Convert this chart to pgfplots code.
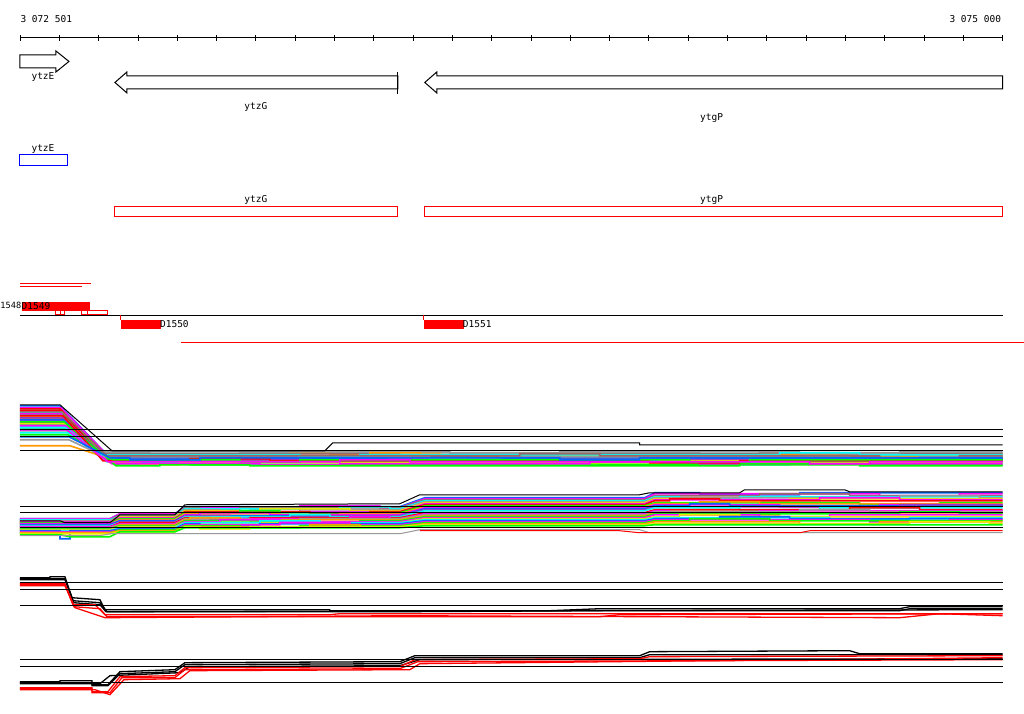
\documentclass[border=0pt]{standalone}
\usepackage{pgfplots}
\pgfplotsset{compat=1.18}
\usepackage{fontspec}
\setmonofont{DejaVu Sans Mono}
\definecolor{mag}{HTML}{FF00FF}
\definecolor{cyn}{HTML}{00FFFF}
\definecolor{lim}{HTML}{00FF00}
\definecolor{yel}{HTML}{E8E800}
\definecolor{org}{HTML}{FF9900}
\definecolor{gry}{HTML}{999999}
\definecolor{blu}{HTML}{0066FF}
\definecolor{rd}{HTML}{FF0000}
\definecolor{brn}{HTML}{996666}
\definecolor{pur}{HTML}{9933CC}
\definecolor{bblue}{HTML}{0000FF}
\begin{document}
\begin{tikzpicture}
\begin{axis}[width=1024pt,height=714pt,scale only axis,
  xmin=0,xmax=1024,ymin=0,ymax=714,y dir=reverse,axis lines=none,clip=false,
  every axis plot/.append style={line join=miter}]
\path (axis cs:0,0) rectangle (axis cs:1024,714);
% ruler
\addplot[black,line width=1pt] coordinates {(20,38) (1003,38)};
\addplot[black,only marks,mark=|,mark size=2.8pt,mark options={line width=0.8pt}] coordinates {
(20,38)(59.3,38)(98.6,38)(138,38)(177.3,38)(216.6,38)(255.9,38)(295.2,38)(334.6,38)(373.9,38)(413.2,38)(452.5,38)(491.8,38)(531.2,38)(570.5,38)(609.8,38)(649.1,38)(688.4,38)(727.8,38)(767.1,38)(806.4,38)(845.7,38)(885,38)(924.4,38)(963.7,38)(1003,38)};
\node[font=\ttfamily\fontsize{9.5}{10}\selectfont,anchor=west] at (axis cs:17,19) {3 072 501};
\node[font=\ttfamily\fontsize{9.5}{10}\selectfont,anchor=east] at (axis cs:1005,19) {3 075 000};
% gene arrows
\addplot[black,fill=white,line width=1pt] coordinates {(20,55)(56,55)(56,51)(69,61.5)(56,72)(56,68)(20,68)} -- cycle;
\addplot[black,fill=white,line width=1pt] coordinates {(398,76)(127,76)(127,72)(115,82.5)(127,93)(127,89)(398,89)} -- cycle;
\addplot[black,line width=1pt] coordinates {(398,72)(398,94)};
\addplot[black,fill=white,line width=1pt] coordinates {(1003,76)(437,76)(437,72)(425,82.5)(437,93)(437,89)(1003,89)} -- cycle;
\node[font=\ttfamily\fontsize{9.5}{10}\selectfont] at (axis cs:43,77) {ytzE};
\node[font=\ttfamily\fontsize{9.5}{10}\selectfont] at (axis cs:256,107) {ytzG};
\node[font=\ttfamily\fontsize{9.5}{10}\selectfont] at (axis cs:712,118) {ytgP};
% track 2
\addplot[bblue,line width=1pt] coordinates {(20,155)(68,155)(68,166)(20,166)} -- cycle;
\node[font=\ttfamily\fontsize{9.5}{10}\selectfont] at (axis cs:43,149) {ytzE};
\addplot[rd,line width=1pt] coordinates {(115,207)(398,207)(398,217)(115,217)} -- cycle;
\addplot[rd,line width=1pt] coordinates {(425,207)(1003,207)(1003,217)(425,217)} -- cycle;
\node[font=\ttfamily\fontsize{9.5}{10}\selectfont] at (axis cs:256,200) {ytzG};
\node[font=\ttfamily\fontsize{9.5}{10}\selectfont] at (axis cs:712,200) {ytgP};
% track 3
\addplot[rd,line width=1pt] coordinates {(20,284)(91,284)};
\addplot[rd,line width=1pt] coordinates {(20,287)(82,287)};
\addplot[rd,fill=rd,line width=0.5pt] coordinates {(22,302)(89,302)(89,310)(22,310)} -- cycle;
\addplot[rd,line width=1pt] coordinates {(56,311)(65,311)(65,315)(56,315)} -- cycle;
\addplot[rd,line width=1pt] coordinates {(61,311)(61,315)};
\addplot[rd,line width=1pt] coordinates {(82,311)(108,311)(108,315)(82,315)} -- cycle;
\addplot[rd,line width=1pt] coordinates {(88,311)(88,315)};
\addplot[black,line width=1pt] coordinates {(20,315.5)(1003,315.5)};
\addplot[rd,line width=1pt] coordinates {(121,315)(121,320)};
\addplot[rd,fill=rd,line width=0.5pt] coordinates {(121,320)(160,320)(160,328.5)(121,328.5)} -- cycle;
\addplot[rd,line width=1pt] coordinates {(424,315)(424,320)};
\addplot[rd,fill=rd,line width=0.5pt] coordinates {(424,320)(463,320)(463,328.5)(424,328.5)} -- cycle;
\addplot[rd,line width=1pt] coordinates {(181,343)(1024,343)};
\node[font=\ttfamily\fontsize{9.5}{10}\selectfont,anchor=west,inner sep=0pt] at (axis cs:21.5,306) {D1549};
\node[font=\ttfamily\fontsize{8.6}{10}\selectfont,anchor=west,inner sep=0pt] at (axis cs:0.3,306) {1548};
\node[font=\ttfamily\fontsize{9.5}{10}\selectfont,anchor=west,inner sep=0pt] at (axis cs:160,324.5) {D1550};
\node[font=\ttfamily\fontsize{9.5}{10}\selectfont,anchor=west,inner sep=0pt] at (axis cs:463,324.5) {D1551};
% ===== bundle A =====
\pgfplotsset{bA/.style={line width=1.6pt}}
\addplot[bA,blu] coordinates {(20,406)(60,406)(108,456)(180,456)(180,458)(260,458)(260,456)(610,456)(610,454)(700,454)(700,456)(1003,456)};
\addplot[bA,mag] coordinates {(20,408)(61,408)(110,458)(230,458)(230,456)(330,456)(330,458)(520,458)(520,460)(640,460)(640,458)(1003,458)};
\addplot[bA,gry] coordinates {(20,410)(61,410)(100,453)(150,453)(150,455)(240,455)(240,453)(700,453)(700,454)(820,454)(820,453)(1003,453)};
\addplot[bA,rd] coordinates {(20,411)(62,411)(105,460)(300,460)(300,458)(380,458)(380,460)(560,460)(560,462)(610,462)(610,460)(1003,460)};
\addplot[bA,cyn] coordinates {(20,413)(62,413)(112,462)(140,462)(140,464)(200,464)(200,462)(760,462)(760,460)(880,460)(880,462)(1003,462)};
\addplot[bA,lim] coordinates {(20,415)(63,415)(114,464)(260,464)(260,462)(420,462)(420,464)(900,464)(900,465)(980,465)(980,464)(1003,464)};
\addplot[bA,yel] coordinates {(20,417)(63,417)(100,457)(330,457)(330,460)(360,460)(360,457)(640,457)(640,455)(720,455)(720,457)(1003,457)};
\addplot[bA,org] coordinates {(20,419)(64,419)(104,455)(290,455)(290,453)(330,453)(330,455)(420,455)(420,453)(440,453)(440,455)(1003,455)};
\addplot[bA,mag] coordinates {(20,421)(64,421)(111,461)(200,461)(200,463)(280,463)(280,461)(820,461)(820,459)(900,459)(900,461)(1003,461)};
\addplot[bA,brn] coordinates {(20,423)(65,423)(98,454)(400,454)(400,456)(520,456)(520,454)(760,454)(760,453)(840,453)(840,454)(1003,454)};
\addplot[bA,blu] coordinates {(20,425)(65,425)(106,459)(170,459)(170,457)(230,457)(230,459)(580,459)(580,461)(660,461)(660,459)(1003,459)};
\addplot[bA,cyn] coordinates {(20,427)(66,427)(113,463)(350,463)(350,461)(450,461)(450,463)(700,463)(700,465)(790,465)(790,463)(1003,463)};
\addplot[bA,rd] coordinates {(20,409)(60,409)(102,457)(250,457)(250,459)(300,459)(300,457)(880,457)(880,455)(960,455)(960,457)(1003,457)};
\addplot[bA,lim] coordinates {(20,429)(66,429)(115,465)(120,465)(120,463)(190,463)(190,465)(540,465)(540,464)(600,464)(600,465)(1003,465)};
\addplot[bA,gry] coordinates {(20,431)(67,431)(99,452)(450,452)(450,454)(560,454)(560,452)(800,452)(800,454)(900,454)(900,452)(1003,452)};
\addplot[bA,mag] coordinates {(20,414)(61,414)(103,459)(310,459)(310,461)(390,461)(390,459)(720,459)(720,457)(800,457)(800,459)(1003,459)};
\addplot[bA,pur] coordinates {(20,418)(62,418)(109,460)(480,460)(480,458)(540,458)(540,460)(860,460)(860,462)(940,462)(940,460)(1003,460)};
\addplot[bA,cyn] coordinates {(20,433)(68,433)(107,462)(220,462)(220,464)(310,464)(310,462)(620,462)(620,460)(680,460)(680,462)(1003,462)};
\addplot[bA,org] coordinates {(20,446)(70,446)(101,456)(370,456)(370,453)(420,453)(420,456)(520,456)(520,458)(560,458)(560,456)(1003,456)};
\addplot[bA,yel] coordinates {(20,424)(65,424)(110,463)(140,463)(140,465)(180,465)(180,463)(660,463)(660,461)(760,461)(760,463)(1003,463)};
\addplot[bA,blu] coordinates {(20,420)(63,420)(104,458)(380,458)(380,456)(470,456)(470,458)(900,458)(900,459)(1003,459)};
\addplot[bA,mag] coordinates {(20,426)(66,426)(112,464)(260,464)(260,465)(340,465)(340,464)(590,464)(590,462)(700,462)(700,464)(1003,464)};
\addplot[bA,lim] coordinates {(20,422)(64,422)(116,466)(160,466)(160,465)(250,465)(250,466)(740,466)(740,464)(860,464)(860,466)(1003,466)};
\addplot[bA,gry] coordinates {(20,440)(69,440)(105,457)(430,457)(430,459)(500,459)(500,457)(850,457)(850,455)(920,455)(920,457)(1003,457)};
\addplot[bA,rd] coordinates {(20,416)(63,416)(103,461)(190,461)(190,459)(270,459)(270,461)(650,461)(650,463)(740,463)(740,461)(1003,461)};
\addplot[bA,cyn] coordinates {(20,428)(66,428)(99,455)(300,455)(300,457)(360,457)(360,455)(780,455)(780,453)(860,453)(860,455)(1003,455)};
\addplot[bA,brn] coordinates {(20,412)(62,412)(107,456)(520,456)(520,454)(600,454)(600,456)(880,456)(880,458)(960,458)(960,456)(1003,456)};
\addplot[bA,lim] coordinates {(20,435)(68,435)(113,460)(240,460)(240,462)(300,462)(300,460)(690,460)(690,462)(750,462)(750,460)(1003,460)};
\addplot[bA,mag] coordinates {(20,430)(67,430)(108,462)(340,462)(340,460)(410,460)(410,462)(810,462)(810,464)(870,464)(870,462)(1003,462)};
\addplot[bA,blu] coordinates {(20,437)(69,437)(110,458)(130,458)(130,460)(200,460)(200,458)(560,458)(560,460)(640,460)(640,458)(1003,458)};
\addplot[black,line width=1pt] coordinates {(20,405)(60,405)(112,451)(325,451)(333,443)(640,443)(640,445)(1003,445)};
\addplot[black,line width=1pt] coordinates {(20,430)(1003,430)};
\addplot[black,line width=1pt] coordinates {(20,436.5)(1003,436.5)};
\addplot[black,line width=1pt] coordinates {(20,451)(1003,451)};
% ===== bundle B =====
\addplot[bA,blu] coordinates {(20,519)(110,519)(120,514)(175,514)(185,507)(250,507)(250,509)(320,509)(320,507)(400,507)(425,498)(645,498)(655,493)(700,493)(700,495)(800,495)(800,493)(1003,493)};
\addplot[bA,mag] coordinates {(20,519)(110,519)(120,514)(175,514)(185,508)(300,508)(300,506)(380,506)(380,508)(400,508)(425,499)(645,499)(655,494)(880,494)(880,496)(960,496)(960,494)(1003,494)};
\addplot[bA,brn] coordinates {(20,520)(110,520)(120,515)(175,515)(185,508)(200,508)(200,510)(240,510)(240,508)(400,508)(425,500)(645,500)(655,496)(760,496)(760,494)(850,494)(850,496)(1003,496)};
\addplot[bA,cyn] coordinates {(20,520)(110,520)(120,516)(175,516)(185,509)(340,509)(340,507)(390,507)(390,509)(400,509)(425,501)(645,501)(655,497)(680,497)(680,499)(740,499)(740,497)(1003,497)};
\addplot[bA,gry] coordinates {(20,521)(110,521)(120,516)(175,516)(185,510)(220,510)(220,512)(300,512)(300,510)(400,510)(425,502)(645,502)(655,498)(900,498)(900,496)(980,496)(980,498)(1003,498)};
\addplot[bA,yel] coordinates {(20,522)(110,522)(120,517)(175,517)(185,511)(260,511)(260,509)(350,509)(350,511)(400,511)(425,503)(645,503)(655,499)(720,499)(720,501)(790,501)(790,499)(1003,499)};
\addplot[bA,mag] coordinates {(20,522)(110,522)(120,518)(175,518)(185,512)(190,512)(190,514)(230,514)(230,512)(400,512)(425,504)(645,504)(655,500)(820,500)(820,498)(900,498)(900,500)(1003,500)};
\addplot[bA,rd] coordinates {(20,523)(110,523)(120,519)(175,519)(185,512)(310,512)(310,514)(370,514)(370,512)(400,512)(425,505)(645,505)(655,501)(670,501)(670,499)(720,499)(720,501)(1003,501)};
\addplot[bA,lim] coordinates {(20,523)(110,523)(120,519)(175,519)(185,513)(240,513)(240,511)(280,511)(280,513)(400,513)(425,506)(645,506)(655,503)(860,503)(860,505)(940,505)(940,503)(1003,503)};
\addplot[bA,org] coordinates {(20,524)(110,524)(120,520)(175,520)(185,514)(280,514)(280,516)(340,516)(340,514)(400,514)(425,507)(645,507)(655,504)(700,504)(700,502)(760,502)(760,504)(1003,504)};
\addplot[bA,mag] coordinates {(20,524)(110,524)(120,521)(175,521)(185,515)(200,515)(200,513)(270,513)(270,515)(400,515)(425,508)(645,508)(655,505)(780,505)(780,507)(880,507)(880,505)(1003,505)};
\addplot[bA,blu] coordinates {(20,525)(110,525)(120,521)(175,521)(185,516)(330,516)(330,518)(395,518)(395,516)(400,516)(425,509)(645,509)(655,506)(690,506)(690,504)(730,504)(730,506)(1003,506)};
\addplot[bA,pur] coordinates {(20,526)(110,526)(120,522)(175,522)(185,516)(230,516)(230,518)(290,518)(290,516)(400,516)(425,510)(645,510)(655,507)(900,507)(900,505)(1003,505)};
\addplot[bA,cyn] coordinates {(20,526)(110,526)(120,523)(175,523)(185,517)(290,517)(290,515)(330,515)(330,517)(400,517)(425,511)(645,511)(655,508)(740,508)(740,510)(820,510)(820,508)(1003,508)};
\addplot[bA,rd] coordinates {(20,527)(110,527)(120,523)(175,523)(185,518)(210,518)(210,520)(250,520)(250,518)(400,518)(425,513)(645,513)(655,510)(850,510)(850,508)(920,508)(920,510)(1003,510)};
\addplot[bA,mag] coordinates {(20,527)(110,527)(120,524)(175,524)(185,519)(350,519)(350,517)(390,517)(390,519)(400,519)(425,514)(645,514)(655,511)(670,511)(670,513)(760,513)(760,511)(1003,511)};
\addplot[bA,gry] coordinates {(20,528)(110,528)(120,525)(175,525)(185,519)(250,519)(250,521)(300,521)(300,519)(400,519)(425,515)(645,515)(655,512)(800,512)(800,510)(870,510)(870,512)(1003,512)};
\addplot[bA,org] coordinates {(20,529)(110,529)(120,525)(175,525)(185,520)(190,520)(190,518)(240,518)(240,520)(400,520)(425,516)(645,516)(655,513)(700,513)(700,515)(780,515)(780,513)(1003,513)};
\addplot[bA,lim] coordinates {(20,529)(110,529)(120,526)(175,526)(185,521)(300,521)(300,523)(360,523)(360,521)(400,521)(425,517)(645,517)(655,514)(900,514)(900,512)(960,512)(960,514)(1003,514)};
\addplot[bA,mag] coordinates {(20,530)(110,530)(120,527)(175,527)(185,522)(220,522)(220,520)(280,520)(280,522)(400,522)(425,518)(645,518)(655,515)(760,515)(760,517)(830,517)(830,515)(1003,515)};
\addplot[bA,yel] coordinates {(20,530)(110,530)(120,527)(175,527)(185,523)(330,523)(330,525)(380,525)(380,523)(400,523)(425,519)(645,519)(655,517)(680,517)(680,515)(740,515)(740,517)(1003,517)};
\addplot[bA,cyn] coordinates {(20,531)(110,531)(120,528)(175,528)(185,523)(260,523)(260,521)(320,521)(320,523)(400,523)(425,520)(645,520)(655,518)(830,518)(830,520)(910,520)(910,518)(1003,518)};
\addplot[bA,blu] coordinates {(20,531)(60,531)(60,539)(70,539)(70,531)(110,531)(120,529)(175,529)(185,524)(200,524)(200,526)(260,526)(260,524)(400,524)(425,521)(645,521)(655,519)(720,519)(720,517)(790,517)(790,519)(1003,519)};
\addplot[bA,mag] coordinates {(20,532)(110,532)(120,530)(175,530)(185,525)(280,525)(280,523)(350,523)(350,525)(400,525)(425,522)(645,522)(655,520)(870,520)(870,522)(950,522)(950,520)(1003,520)};
\addplot[bA,lim] coordinates {(20,533)(110,533)(120,530)(175,530)(185,526)(240,526)(240,528)(300,528)(300,526)(400,526)(425,523)(645,523)(655,521)(690,521)(690,519)(770,519)(770,521)(1003,521)};
\addplot[bA,org] coordinates {(20,533)(110,533)(120,531)(175,531)(185,527)(310,527)(310,525)(360,525)(360,527)(400,527)(425,524)(645,524)(655,522)(800,522)(800,524)(880,524)(880,522)(1003,522)};
\addplot[bA,yel] coordinates {(20,534)(110,534)(120,532)(175,532)(185,527)(200,527)(200,529)(250,529)(250,527)(400,527)(425,525)(645,525)(655,524)(910,524)(910,522)(990,522)(990,524)(1003,524)};
\addplot[bA,lim] coordinates {(20,535)(60,535)(70,537)(110,537)(120,532)(175,532)(185,528)(400,528)(425,526)(645,526)(655,525)(1003,525)};
\addplot[black,line width=1pt] coordinates {(20,521)(60,521)(65,523)(110,523)(120,515)(175,515)(185,505)(400,504)(420,495)(640,495)(650,493)(740,493)(745,490)(845,490)(850,492)(1003,492)};
\addplot[gry,line width=1pt] coordinates {(20,536)(100,536)(110,534)(400,534)(420,530)(640,530)(650,533)(1003,533)};
\addplot[rd,line width=1pt] coordinates {(420,531)(620,531)(640,533)(800,533)(810,531)(1003,531)};
\addplot[black,line width=1pt] coordinates {(20,507)(1003,507)};
\addplot[black,line width=1pt] coordinates {(20,513)(1003,513)};
\addplot[black,line width=1pt] coordinates {(20,528)(1003,528)};
% ===== panel C =====
\pgfplotsset{bC/.style={line width=1.3pt}}
\addplot[bC,black] coordinates {(20,578)(50,578)(50,577)(65,577)(72,598)(100,600)(105,610)(330,610)(330,611)(550,611)(600,609)(900,609)(910,607)(1003,607)};
\addplot[bC,black] coordinates {(20,580)(65,580)(73,601)(100,603)(107,612)(400,612)(600,611)(900,611)(910,609)(1003,609)};
\addplot[bC,black] coordinates {(20,579)(65,579)(74,603)(100,605)(106,612)(1003,610)};
\addplot[bC,rd] coordinates {(20,584)(65,584)(73,605)(95,605)(105,615)(330,615)(340,614)(1003,614)};
\addplot[bC,rd] coordinates {(20,585)(65,585)(74,607)(100,609)(107,617)(600,617)(620,615)(1003,614)};
\addplot[bC,rd] coordinates {(20,586)(65,586)(75,608)(105,618)(400,616)(900,618)(940,614)(1003,616)};
\addplot[black,line width=1pt] coordinates {(20,583)(1003,583)};
\addplot[black,line width=1pt] coordinates {(20,590)(1003,590)};
\addplot[black,line width=1pt] coordinates {(20,606)(1003,606)};
% ===== panel D =====
\addplot[bC,black] coordinates {(20,682)(60,682)(60,681)(92,681)(92,685)(108,685)(120,672)(175,670)(185,663)(400,662)(415,656)(640,656)(650,652)(850,651)(860,654)(1003,654)};
\addplot[bC,black] coordinates {(20,683)(92,683)(92,686)(108,686)(120,674)(175,672)(185,665)(400,664)(415,658)(640,658)(650,655)(1003,655)};
\addplot[bC,black] coordinates {(20,684)(100,684)(110,676)(180,673)(190,667)(400,666)(420,660)(1003,659)};
\addplot[bC,rd] coordinates {(20,688)(92,688)(92,692)(108,692)(120,677)(175,676)(185,668)(400,667)(415,660)(640,659)(650,657)(1003,656)};
\addplot[bC,rd] coordinates {(20,689)(92,689)(92,693)(110,693)(122,678)(175,678)(185,670)(400,669)(418,662)(1003,660)};
\addplot[bC,rd] coordinates {(20,690)(95,690)(110,695)(124,680)(180,679)(190,671)(410,670)(420,664)(1003,658)};
\addplot[black,line width=1pt] coordinates {(20,660)(1003,660)};
\addplot[black,line width=1pt] coordinates {(20,667)(1003,667)};
\addplot[black,line width=1pt] coordinates {(20,683)(1003,683)};
\end{axis}
\end{tikzpicture}
\end{document}
